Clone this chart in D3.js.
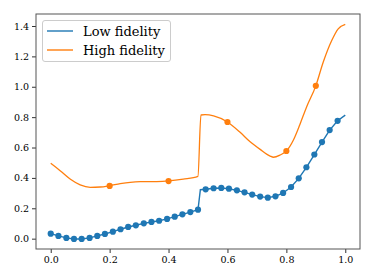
<!DOCTYPE html>
<html lang="en">
<head>
    <meta charset="UTF-8">
    <title>Low vs high fidelity</title>
    <style>
        body { margin: 0; background: #fff; }
        .legend text { font-family: "DejaVu Serif", serif; font-size: 13px; }
    </style>
    <script src="https://d3js.org/d3.v7.min.js"></script>
</head>
<body>
    <script>
        // low fidelity samples (markers)
        const lowX = [0, 0.026, 0.053, 0.079, 0.105, 0.132, 0.158, 0.184, 0.211, 0.237,
                      0.263, 0.289, 0.316, 0.342, 0.368, 0.395, 0.421, 0.447, 0.474, 0.5,
                      0.526, 0.553, 0.579, 0.605, 0.632, 0.658, 0.684, 0.711, 0.737, 0.763,
                      0.789, 0.816, 0.842, 0.868, 0.895, 0.921, 0.947, 0.974];
        const lowY = [0.033, 0.018, 0.005, -0.002, -0.002, 0.005, 0.018, 0.031, 0.046, 0.062,
                      0.077, 0.088, 0.101, 0.110, 0.118, 0.130, 0.145, 0.160, 0.175, 0.191,
                      0.325, 0.332, 0.334, 0.329, 0.318, 0.305, 0.290, 0.277, 0.270, 0.279,
                      0.301, 0.340, 0.397, 0.470, 0.554, 0.636, 0.715, 0.776];
        // extra points on the low fidelity curve (jump and end)
        const lowExtraX = [0.508, 1.0];
        const lowExtraY = [0.322, 0.813];

        // high fidelity curve
        const highLineX = [0, 0.033, 0.067, 0.1, 0.134, 0.168, 0.2, 0.236, 0.27, 0.304,
                           0.36, 0.4, 0.45, 0.4997, 0.51, 0.524, 0.553, 0.6, 0.643, 0.677,
                           0.711, 0.745, 0.756, 0.779, 0.8, 0.824, 0.846, 0.869, 0.9, 0.925,
                           0.954, 0.976, 1.0];
        const highLineY = [0.496, 0.446, 0.391, 0.354, 0.338, 0.340, 0.349, 0.362, 0.371, 0.375,
                           0.376, 0.380, 0.392, 0.410, 0.814, 0.816, 0.808, 0.768, 0.700, 0.638,
                           0.588, 0.544, 0.536, 0.551, 0.577, 0.650, 0.752, 0.869, 1.006, 1.161,
                           1.304, 1.381, 1.411];
        // high fidelity samples (markers)
        const highX = [0.2, 0.4, 0.6, 0.8, 0.9];
        const highY = [0.347, 0.379, 0.768, 0.577, 1.006];

        const xTicks = [0, 0.2, 0.4, 0.6, 0.8, 1.0];
        const yTicks = [0, 0.2, 0.4, 0.6, 0.8, 1.0, 1.2, 1.4];

        const width = 374, height = 280;
        const blue = "#1f77b4", orange = "#ff7f0e";

        const x = d3.scaleLinear().domain([-0.05, 1.05]).range([36, 360]);
        const y = d3.scaleLinear().domain([-0.068, 1.479]).range([249, 14]);

        const svg = d3.select("body").append("svg")
            .attr("width", width)
            .attr("height", height);

        const line = d3.line()
            .x(d => x(d[0]))
            .y(d => y(d[1]));

        const lowPts = lowX.map((v, i) => [v, lowY[i]])
            .concat(lowExtraX.map((v, i) => [v, lowExtraY[i]]))
            .sort((a, b) => a[0] - b[0]);
        const highPts = highLineX.map((v, i) => [v, highLineY[i]]);

        svg.append("path")
            .attr("d", line(lowPts))
            .attr("fill", "none")
            .attr("stroke", blue)
            .attr("stroke-width", 1.4);

        svg.selectAll(".lowdot")
            .data(lowX.map((v, i) => [v, lowY[i]]))
            .enter().append("circle")
            .attr("cx", d => x(d[0]))
            .attr("cy", d => y(d[1]))
            .attr("r", 3.1)
            .attr("fill", blue);

        svg.append("path")
            .attr("d", line.curve(d3.curveMonotoneX)(highPts))
            .attr("fill", "none")
            .attr("stroke", orange)
            .attr("stroke-width", 1.3);

        svg.selectAll(".highdot")
            .data(highX.map((v, i) => [v, highY[i]]))
            .enter().append("circle")
            .attr("cx", d => x(d[0]))
            .attr("cy", d => y(d[1]))
            .attr("r", 3.1)
            .attr("fill", orange);

        // axes
        svg.append("g")
            .attr("transform", "translate(0,249)")
            .call(d3.axisBottom(x).tickValues(xTicks).tickFormat(d3.format(".1f"))
                .tickSize(4).tickPadding(3))
            .attr("font-family", "'DejaVu Serif', serif")
            .attr("font-size", 9.5)
            .call(g => g.select(".domain").remove())
            .call(g => g.selectAll("line").attr("stroke", "#333"));

        svg.append("g")
            .attr("transform", "translate(36,0)")
            .call(d3.axisLeft(y).tickValues(yTicks).tickFormat(d3.format(".1f"))
                .tickSize(4).tickPadding(3))
            .attr("font-family", "'DejaVu Serif', serif")
            .attr("font-size", 9.5)
            .call(g => g.select(".domain").remove())
            .call(g => g.selectAll("line").attr("stroke", "#333"));

        svg.append("rect")
            .attr("x", 36).attr("y", 14)
            .attr("width", 324).attr("height", 235)
            .attr("fill", "none")
            .attr("stroke", "#555")
            .attr("stroke-width", 1);

        // legend
        const legend = svg.append("g").attr("class", "legend");
        legend.append("rect")
            .attr("x", 42.5).attr("y", 20.5)
            .attr("width", 128).attr("height", 41)
            .attr("rx", 2.5)
            .attr("fill", "#fff")
            .attr("fill-opacity", 0.8)
            .attr("stroke", "#ccc");
        const items = [["Low fidelity", blue], ["High fidelity", orange]];
        items.forEach((it, i) => {
            const ly = 31 + i * 19;
            legend.append("line")
                .attr("x1", 47).attr("x2", 73)
                .attr("y1", ly).attr("y2", ly)
                .attr("stroke", it[1])
                .attr("stroke-width", 1.4);
            legend.append("text")
                .attr("x", 83).attr("y", ly)
                .attr("dy", "0.35em")
                .text(it[0]);
        });
    </script>
</body>
</html>
